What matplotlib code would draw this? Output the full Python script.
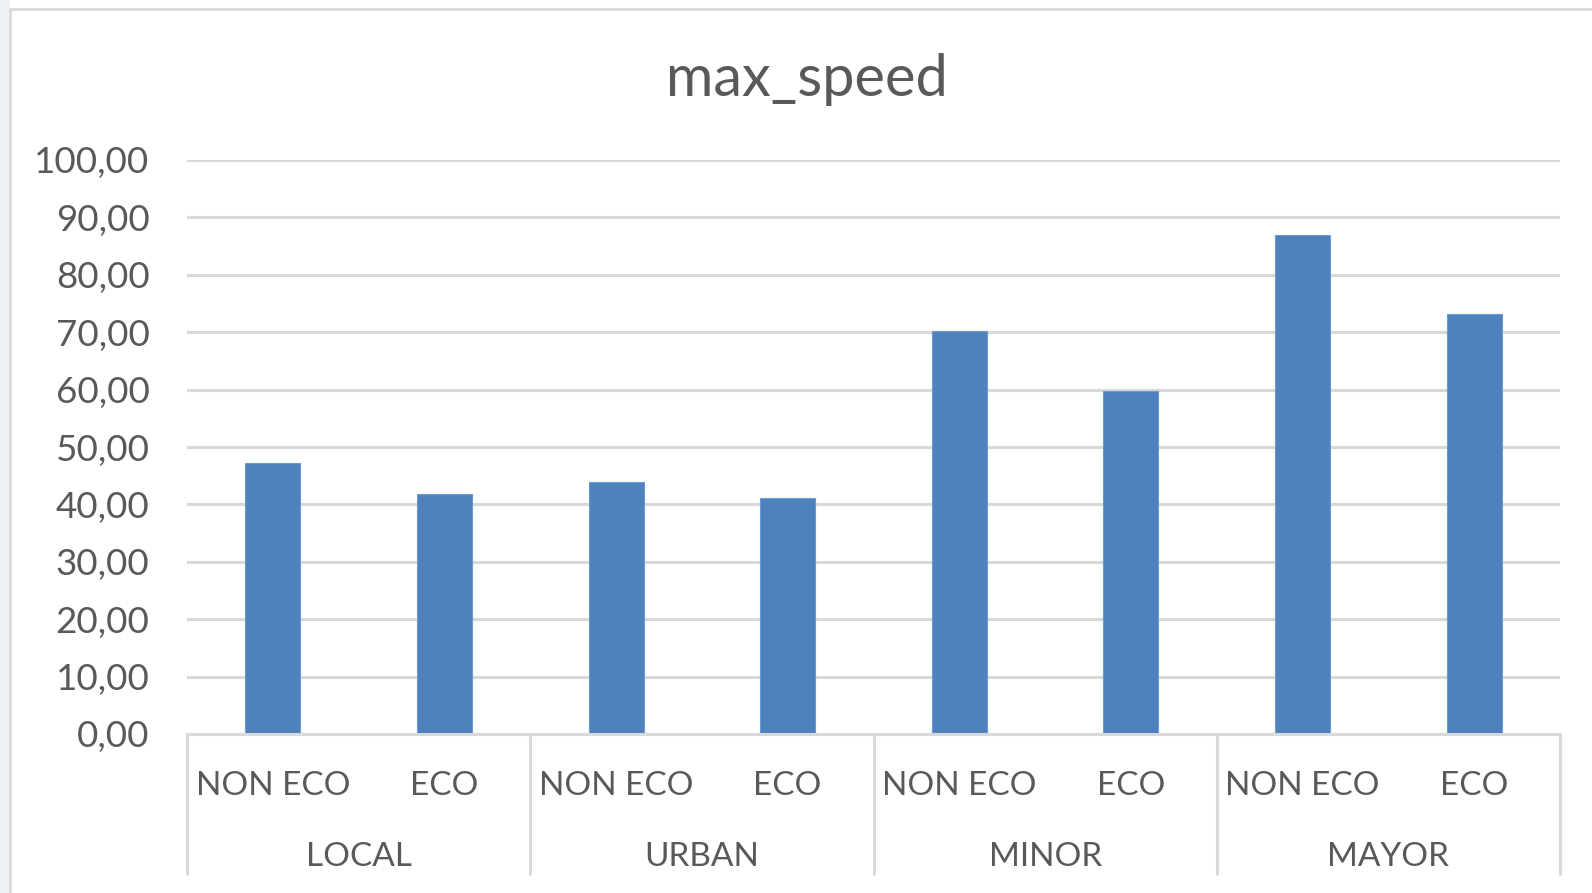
import numpy as np
import matplotlib
matplotlib.use("Agg")
from matplotlib import pyplot as plt
from matplotlib.patches import Rectangle

plt.rcParams['font.family'] = ['Lato', 'DejaVu Sans']

groups = ["LOCAL", "URBAN", "MINOR", "MAYOR"]
kinds = ["NON ECO", "ECO"]
max_speed = [47.2, 41.8, 43.9, 41.1, 70.2, 59.8, 87.0, 73.2]
yticks = [0, 10, 20, 30, 40, 50, 60, 70, 80, 90, 100]

text_col = "#595959"
grid_col = "#D9D9D9"
bar_col = "#4F81BD"

W, H = 1592, 893
fig = plt.figure(figsize=(W / 100, H / 100), dpi=100)
fig.patch.set_facecolor("white")

# chart area frame with a pale strip to its left
fig.add_artist(Rectangle((0, 0), 10 / W, 1, transform=fig.transFigure,
                         facecolor="#EEF2F5", edgecolor="none", zorder=0))
fig.add_artist(Rectangle((10 / W, -0.05), 1.1, 1 - 9 / H + 0.05, transform=fig.transFigure,
                         facecolor="white", edgecolor=grid_col, linewidth=2, zorder=0))

ax = fig.add_axes([187 / W, 1 - 734 / H, (1560 - 187) / W, (734 - 160) / H])
ax.set_facecolor("none")

x = np.arange(len(max_speed))
ax.bar(x, max_speed, width=0.32, color=bar_col, edgecolor="#6A9AD4", linewidth=0.8, zorder=3)

ax.set_xlim(-0.5, len(max_speed) - 0.5)
ax.set_ylim(0, 100)
ax.set_yticks(yticks)
ax.set_yticklabels([f"{v:.2f}".replace(".", ",") for v in yticks])
ax.tick_params(axis="y", length=0, pad=27, labelsize=26.5, labelcolor=text_col)
ax.set_xticks([])
ax.grid(axis="y", color=grid_col, linewidth=2.2, zorder=0)
for s in ["left", "right", "top"]:
    ax.spines[s].set_visible(False)
ax.spines["bottom"].set_color(grid_col)
ax.spines["bottom"].set_linewidth(2.2)
ax.spines["bottom"].set_zorder(4)

# two-level category axis
trans = ax.get_xaxis_transform()
for i in range(len(max_speed)):
    ax.text(i, -0.091, kinds[i % 2], transform=trans, ha="center", va="center",
            fontsize=24, color=text_col)
for g, name in enumerate(groups):
    ax.text(2 * g + 0.5, -0.214, name, transform=trans, ha="center", va="center",
            fontsize=24, color=text_col)
for b in np.arange(-0.5, len(max_speed), 2):
    ax.plot([b, b], [0, -0.246], transform=trans, color=grid_col, linewidth=2.2,
            clip_on=False, solid_capstyle="butt")

fig.text(807 / W, 1 - 80 / H, "max_speed", ha="center", va="center",
         fontsize=41.5, color=text_col)

fig.savefig("out.png", dpi=100)
